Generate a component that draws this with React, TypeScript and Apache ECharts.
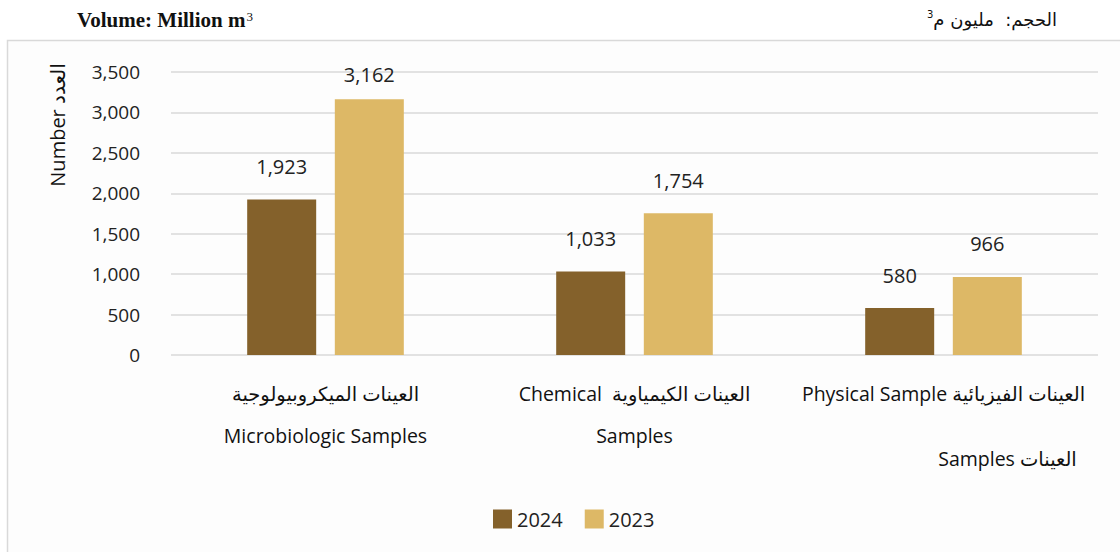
import React, { useEffect, useRef } from "react";
import * as echarts from "echarts";

const categories = [
  "العينات الميكروبيولوجية\nMicrobiologic Samples",
  "Chemical  العينات الكيمياوية\nSamples",
  "Physical Sample العينات الفيزيائية\nSamples العينات",
];
const seriesNames = ["2024", "2023"];
const values2024 = [1923, 1033, 580];
const values2023 = [3162, 1754, 966];
const yTicks = { min: 0, max: 3500, interval: 500 };
const colors = ["#84612B", "#DDB866"];

const NUM_FONT = "'Open Sans', 'Noto Sans', sans-serif";
const LBL_FONT = "'Open Sans', 'DejaVu Sans', sans-serif";

export default function App() {
  const ref = useRef<HTMLDivElement>(null);
  useEffect(() => {
    document.body.style.margin = "0";
    const chart = echarts.init(ref.current!, null, { renderer: "svg" });
    const fmt = (v: number) => v.toLocaleString("en-US");
    const valueLabel = {
      show: true,
      position: "top",
      distance: 23,
      fontFamily: NUM_FONT,
      fontSize: 20,
      color: "#222",
      formatter: (p: any) => fmt(p.value),
    };
    chart.setOption({
      animation: false,
      backgroundColor: "#ffffff",
      graphic: [
        {
          type: "rect",
          z: -10,
          shape: { x: 7.5, y: 40.5, width: 1200, height: 600 },
          style: { fill: "#fdfdfd", stroke: "#d9d9d9", lineWidth: 1.5 },
        },
        {
          type: "text",
          x: 77,
          y: 20,
          style: {
            text: "{b|Volume: Million m}{s|3}",
            verticalAlign: "middle",
            rich: {
              b: { fontFamily: "'Liberation Serif', 'Times New Roman', serif", fontWeight: "bold", fontSize: 21, fill: "#111" },
              s: { fontFamily: "'Liberation Serif', serif", fontSize: 13, fill: "#111", verticalAlign: "top", padding: [0, 0, 7, 1] },
            },
          },
        },
        {
          type: "text",
          x: 1057,
          y: 19,
          style: {
            text: "{s|3}{n|الحجم:  مليون م}",
            align: "right",
            verticalAlign: "middle",
            rich: {
              n: { fontFamily: "'DejaVu Sans', sans-serif", fontSize: 18, fill: "#111" },
              s: { fontFamily: "'DejaVu Sans', sans-serif", fontSize: 10, fill: "#111", verticalAlign: "top", padding: [0, 0, 9, 0] },
            },
          },
        },
        {
          type: "text",
          x: 57,
          y: 125,
          rotation: Math.PI / 2,
          style: {
            text: "Number العدد",
            align: "center",
            verticalAlign: "middle",
            fontFamily: LBL_FONT,
            fontSize: 20,
            fill: "#111",
          },
        },
      ],
      legend: {
        left: 488,
        top: 504,
        itemWidth: 19,
        itemHeight: 19,
        itemGap: 22,
        icon: "rect",
        textStyle: { fontFamily: NUM_FONT, fontSize: 20, color: "#222" },
        data: seriesNames,
      },
      grid: { left: 171, right: 22, top: 72, bottom: 197 },
      xAxis: {
        type: "category",
        data: categories,
        axisLine: { show: false },
        axisTick: { show: false },
        axisLabel: {
          interval: 0,
          margin: 17,
          formatter: (value: string, index: number) => {
            const [l1, l2] = value.split("\n");
            if (index === 2) return `{a|${l1}}\n{c|${l2}}`;
            return `{a|${l1}}\n{a|${l2}}`;
          },
          rich: {
            a: { fontFamily: LBL_FONT, fontSize: 19.5, color: "#111", lineHeight: 42 },
            c: { fontFamily: LBL_FONT, fontSize: 19.5, color: "#111", lineHeight: 88, padding: [0, 0, 0, 128] },
          },
        },
      },
      yAxis: {
        type: "value",
        min: yTicks.min,
        max: yTicks.max,
        interval: yTicks.interval,
        axisLabel: {
          margin: 31,
          fontFamily: NUM_FONT,
          fontSize: 19,
          color: "#222",
          formatter: (v: number) => fmt(v),
        },
        splitLine: { lineStyle: { color: "#d9d9d9", width: 1.5 } },
        axisLine: { show: false },
        axisTick: { show: false },
      },
      series: [
        {
          name: seriesNames[0],
          type: "bar",
          data: values2024,
          barWidth: 69,
          barGap: "27%",
          itemStyle: { color: colors[0] },
          label: valueLabel,
        },
        {
          name: seriesNames[1],
          type: "bar",
          data: values2023.map((v, i) => (i === 0 ? { value: v, label: { distance: 15 } } : v)),
          barWidth: 69,
          barGap: "27%",
          itemStyle: { color: colors[1] },
          label: valueLabel,
        },
      ],
    });
    return () => chart.dispose();
  }, []);
  return (
    <div
      ref={ref}
      style={{ position: "absolute", left: 0, top: 0, width: 1120, height: 552 }}
    />
  );
}
